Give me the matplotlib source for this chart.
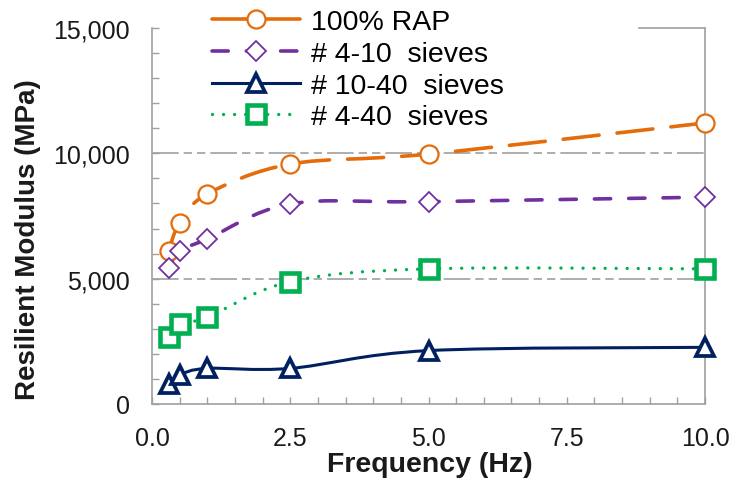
import matplotlib
matplotlib.use("Agg")
from matplotlib import pyplot as plt
from matplotlib.path import Path
from matplotlib.patches import PathPatch
from matplotlib.lines import Line2D
from matplotlib.ticker import MultipleLocator, FuncFormatter
import numpy as np

plt.rcParams['font.family'] = ['Liberation Sans', 'DejaVu Sans']

# data
freq = [0.3, 0.5, 1.0, 2.5, 5.0, 10.0]
rap_100 = [6120, 7210, 8380, 9570, 9970, 11210]
sieve_4_10 = [5410, 6110, 6580, 7980, 8070, 8250]
sieve_10_40 = [790, 1160, 1420, 1420, 2130, 2260]
sieve_4_40 = [2660, 3190, 3460, 4880, 5390, 5390]

labels = ['100% RAP', '# 4-10  sieves', '# 10-40  sieves', '# 4-40  sieves']
colors = ['#E46C0A', '#7030A0', '#002060', '#00B050']


def smooth_path(x, y):
    # excel-like smoothed line: bezier segments through the data points
    pts = np.column_stack([x, y]).astype(float)
    ext = np.vstack([pts[0], pts, pts[-1]])
    verts = [pts[0]]
    codes = [Path.MOVETO]
    for i in range(len(pts) - 1):
        p0, p1, p2, p3 = ext[i], ext[i + 1], ext[i + 2], ext[i + 3]
        verts += [p1 + (p2 - p0) / 6, p2 - (p3 - p1) / 6, p2]
        codes += [Path.CURVE4] * 3
    return Path(verts, codes)


fig = plt.figure(figsize=(7.35, 4.89), dpi=100)
ax = fig.add_axes([0.2068, 0.1718, 0.7524, 0.769])

styles = [
    dict(ls=(0, (10, 5)), marker='o', ms=13, mew=1.6, lw=2.6),
    dict(ls=(0, (4.5, 5)), marker='D', ms=10, mew=1.3, lw=2.6),
    dict(ls='-', marker='^', ms=12.5, mew=2.7, lw=2.2),
    dict(ls=(0, (0.01, 3.3)), marker='s', ms=12.5, mew=3.3, lw=2.4),
]
series = [rap_100, sieve_4_10, sieve_10_40, sieve_4_40]

handles = []
for vals, lab, c, st in zip(series, labels, colors, styles):
    patch = PathPatch(smooth_path(freq, vals), fill=False, edgecolor=c,
                      lw=st['lw'], linestyle=st['ls'], capstyle='round', zorder=3)
    ax.add_patch(patch)
    ax.plot(freq, vals, ls='none', marker=st['marker'], ms=st['ms'],
            mfc='white', mec=c, mew=st['mew'], zorder=4, clip_on=False)
    handles.append(Line2D([], [], color=c, lw=st['lw'], ls=st['ls'],
                          dash_capstyle='round', marker=st['marker'], ms=st['ms'],
                          mfc='white', mec=c, mew=st['mew']))

ax.set_xlim(0, 10)
ax.set_ylim(0, 15000)
ax.xaxis.set_major_locator(MultipleLocator(2.5))
ax.xaxis.set_minor_locator(MultipleLocator(0.5))
ax.yaxis.set_major_locator(MultipleLocator(5000))
ax.yaxis.set_minor_locator(MultipleLocator(1000))
ax.xaxis.set_major_formatter(FuncFormatter(lambda v, p: f'{v:.1f}'))
ax.yaxis.set_major_formatter(FuncFormatter(lambda v, p: f'{v:,.0f}'))

ax.tick_params(which='both', direction='in', length=5, width=1, color='#A0A0A0',
               labelsize=18, labelcolor='#1a1a1a', pad=16)

for s in ax.spines.values():
    s.set_color('#A0A0A0')
    s.set_linewidth(1.2)
ax.spines['top'].set_bounds(8.8, 10)

for gy in [5000, 10000]:
    ax.axhline(gy, color='#A0A0A0', lw=1.2, ls=(0, (16, 3, 5, 3, 5, 3)), zorder=1)

fig.text(0.038, 0.509, 'Resilient Modulus (MPa)', rotation=90, ha='center', va='center',
         fontsize=20, fontweight='bold', color='#1a1a1a')
fig.text(0.585, 0.049, 'Frequency (Hz)', ha='center', va='center',
         fontsize=20.5, fontweight='bold', color='#1a1a1a')

leg = fig.legend(handles, labels, loc='upper left', bbox_to_anchor=(0.261, 1.02),
                 fontsize=20.5, handlelength=3.1, handletextpad=0.4, labelspacing=0.2,
                 borderpad=0.2, frameon=False)

fig.savefig('out.png', dpi=100)
